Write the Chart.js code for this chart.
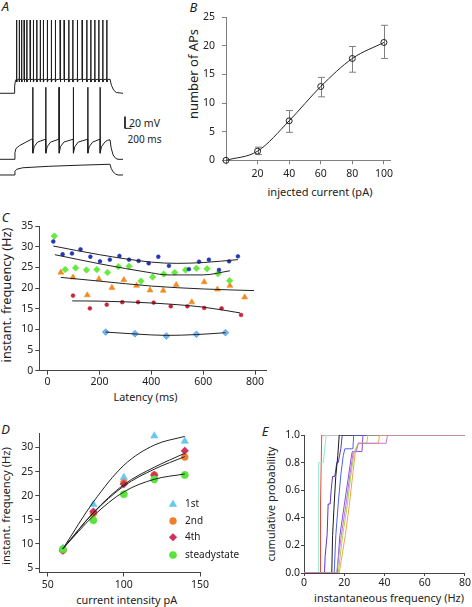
<!DOCTYPE html>
<html>
<head>
<meta charset="utf-8">
<title>Firing properties</title>
<script src="https://cdn.jsdelivr.net/npm/chart.js@4.4.1/dist/chart.umd.min.js"></script>
<style>
html,body{margin:0;padding:0;background:#fff;}
#fig{position:relative;width:472px;height:607px;overflow:hidden;font-family:"Noto Sans",sans-serif;color:#222;}
#fig canvas{position:absolute;}
#txt{position:absolute;left:0;top:0;width:472px;height:607px;}
.t{position:absolute;white-space:nowrap;line-height:1;color:#222;}
</style>
</head>
<body>
<div id="fig">
<div id="txt"></div>
<canvas id="cA" width="160" height="200" style="left:0px;top:0px"></canvas>
<canvas id="cB" width="250" height="200" style="left:160px;top:0px"></canvas>
<canvas id="cC" width="280" height="200" style="left:0px;top:205px"></canvas>
<canvas id="cD" width="245" height="187" style="left:0px;top:420px"></canvas>
<canvas id="cE" width="212" height="187" style="left:260px;top:420px"></canvas>
</div>
<script>
// ---------------- DATA ----------------
// Panel A: voltage traces (time in ms, voltage in display mV incl. trace offsets)
const topSpikeTimes = [508,585,662,738,822,923,1025,1129,1231,1332,1455,1578,1702,1846,1969,2114,2237,2379,2523,2668,2791,2914,3037,3160,3283];
const midSpikeTimes = [1006,1406,1815,2255,2699,3077];
const topOnset = [[0,-134.3],[431,-134.3],[450,-122],[477,-112]];
const topOffset = [[3385,-110],[3430,-121],[3500,-129],[3580,-133],[3785,-134.3]];
const topSpikeLevels = {pre:-110, peak:-8.6, trough:-115, recover:[[25,-111]]};
const midOnset = [[0,-247.5],[431,-247.5],[460,-236],[492,-229],[600,-224],[800,-218],[975,-213]];
const midOffset = [[3300,-215],[3385,-214],[3420,-228],[3480,-240],[3560,-246],[3631,-247.5],[3785,-247.5]];
const midSpikeLevels = {pre:-213, peak:-124, trough:-237, recover:[[45,-226],[150,-218]]};
const lowTrace = [[0,-274.4],[431,-274.4],[460,-268],[520,-264.5],[700,-262],[1500,-259.5],[2500,-257.5],[3385,-256],[3420,-263],[3480,-269],[3560,-273],[3631,-274.4],[3785,-274.4]];
const scaleBarMs = 200, scaleBarMv = 20;

// Panel B
const currentsB = [0,20,40,60,80,100];
const apCountB  = [0,1.6,6.9,12.9,17.8,20.6];
const apErrLowB = [0,1.0,4.9,11.1,15.4,17.8];
const apErrHighB= [0,2.3,8.7,14.5,19.9,23.6];

// Panel C
const latBlue  = [22,58,94,127,165,202,240,277,314,351,390,427,468,545,584,622,661,700,734];
const frqBlue  = [31.3,28.2,28.4,29.4,27.6,26.5,26.9,27.8,26.9,26.6,26.0,27.6,25.4,24.6,26.4,26.9,24.4,26.5,27.7];
const latGreen = [26,68,108,150,190,231,273,314,360,405,448,490,532,574,615,657,702];
const frqGreen = [32.6,24.5,24.9,24.4,24.5,23.8,25.2,25.3,21.7,22.7,23.4,23.8,24.4,24.8,24.7,23.5,21.8];
const latOrange= [51,98,153,198,248,294,343,395,446,496,556,604,655,703,760];
const frqOrange= [23.8,22.6,18.3,22.2,20.1,22.0,20.6,19.5,19.4,20.8,16.6,21.5,19.7,20.6,17.8];
const latRed   = [98,163,228,288,349,409,475,539,604,671,746];
const frqRed   = [18.2,15.1,16.0,16.6,16.6,16.5,15.6,15.6,15.2,15.1,13.5];
const latLBlue = [224,337,458,574,686];
const frqLBlue = [9.35,8.95,8.4,8.8,9.2];
const fitLatBlue  = [22,200,400,500,600,734];   const fitBlue  = [30.2,28.1,26.3,26.0,26.2,26.9];
const fitLatGreen = [28,200,400,460,600,703];   const fitGreen = [28.1,25.9,23.7,23.2,23.2,24.2];
const fitLatOrange= [51,200,400,600,796];       const fitOrange= [22.6,21.7,20.5,19.8,19.4];
const fitLatRed   = [95,200,400,600,742];       const fitRed   = [16.9,16.85,16.4,15.4,14.0];
const fitLatLBlue = [224,337,458,574,686];      const fitLBlue = [9.35,8.9,8.55,8.75,9.2];

// Panel D
const currentD = [60,80,100,120,140];
const freq1st  = [9.1,18.2,23.8,32.4,31.3];
const freq2nd  = [8.7,16.3,22.7,24.3,28.0];
const freq4th  = [8.6,16.7,22.4,24.3,29.3];
const freqSS   = [8.9,14.9,20.3,23.4,24.3];
const fit1st   = [9.0,18.7,26.3,30.5,32.3];
const fit2nd   = [9.0,16.4,22.0,25.5,28.1];
const fit4th   = [9.0,16.5,22.3,25.9,28.8];
const fitSS    = [9.0,15.8,20.8,23.4,24.5];
const legendNamesD = ['1st','2nd','4th','steadystate'];

// Panel E: cumulative probability of instantaneous frequency, per cell
const cellFreqE = [
  [0,8.0,8.2,8.8,80],
  [0,7.2,7.3,9.6,11,80],
  [0,10.2,10.5,11.5,12,13,13.5,14.2,15.3,16.3,17,18.3,19,80],
  [0,13.8,14.2,15,15.8,16.8,17.5,80],
  [0,15,15.8,17,18.3,19.5,20.3,24.3,24.7,80],
  [0,16.5,17.8,20,22.2,23.5,24,28.8,29.3,80],
  [0,17,19.2,21.5,23.3,25,27,31.2,31.7,80],
  [0,17.5,20.5,22.5,24.2,25.5,27,37,37.5,80],
  [0,16.2,18.5,20.8,22.8,24.5,26,27,40.8,41.5,80]
];
const cellProbE = [
  [0,0,0.5,1,1],
  [0,0,0.8,0.8,1,1],
  [0,0,0.12,0.28,0.5,0.5,0.6,0.7,0.7,0.8,0.8,0.9,1,1],
  [0,0,0.27,0.5,0.7,0.85,1,1],
  [0,0,0.27,0.5,0.71,0.85,0.9,0.9,1,1],
  [0,0,0.27,0.49,0.71,0.84,0.88,0.88,1,1],
  [0,0,0.27,0.49,0.71,0.88,0.94,0.94,1,1],
  [0,0,0.27,0.49,0.71,0.88,0.94,0.94,1,1],
  [0,0,0.27,0.49,0.71,0.88,0.88,0.94,0.94,1,1]
];

// ---------------- STYLE ----------------
const cellColorsE = ['#e8483c','#86ecd6','#5a36c8','#1a1a1a','#4a64e6','#8c4ce0','#a6d84a','#f2a550','#c27ad6'];
const FAM = '"Noto Sans", sans-serif';

// ---------------- TEXT (behind the transparent canvases) ----------------
const txt = document.getElementById('txt');
const mctx = document.createElement('canvas').getContext('2d');
function addText(s, cx, cy, len, rot, italic, size){
  const st = italic ? 'italic ' : '';
  if(len){ mctx.font = st + '100px ' + FAM; size = 100*len/mctx.measureText(s).width; }
  const el = document.createElement('div'); el.className='t'; el.textContent = s;
  el.style.font = st + size.toFixed(2) + 'px ' + FAM;
  el.style.lineHeight = '1';
  el.style.left = cx + 'px'; el.style.top = cy + 'px';
  el.style.transform = 'translate(-50%,-50%)' + (rot ? ' rotate(-90deg)' : '');
  txt.appendChild(el);
}
addText('A', 5.5, 6, null, false, true, 13);
addText('B', 193.5, 6.5, null, false, true, 13);
addText('C', 5.5, 216.5, null, false, true, 13);
addText('D', 5.5, 428.5, null, false, true, 13);
addText('E', 265, 430.5, null, false, true, 13);
addText('20 mV', 144.5, 122.5, 31);
addText('200 ms', 144.5, 139, 34);
addText('number of APs', 193, 74, 90, true);
addText('injected current (pA)', 320, 191.7, 105);
addText('instant. frequency (Hz)', 6.3, 294.5, 135, true);
addText('Latency (ms)', 145.5, 397.3, 64);
addText('instant. frequency (Hz)', 6, 506, 118, true);
addText('current intensity pA', 126.7, 600, 101);
addText('cumulative probability', 270, 504, 115, true);
addText('instantaneous frequency (Hz)', 389, 597.7, 150);

// ---------------- CHART DEFAULTS ----------------
Chart.defaults.font.family = FAM;
Chart.defaults.font.size = 10.5;
Chart.defaults.color = '#222';
Chart.defaults.animation = false;
Chart.defaults.responsive = false;
Chart.defaults.plugins.legend.display = false;
Chart.defaults.plugins.tooltip.enabled = false;
Chart.defaults.events = [];

function axis(o){
  const col = o.color || '#444';
  const s = {type:'linear', min:o.min, max:o.max,
    border:{display:true,color:col,width:1},
    grid:{display:true,drawOnChartArea:false,drawTicks:true,tickLength:o.tl,tickColor:col,color:col,tickWidth:1},
    ticks:{stepSize:o.step,padding:o.pad,includeBounds:false,autoSkip:false,maxRotation:0,color:'#222',font:{size:o.fs||10.5}},
    afterFit(sc){ if(o.w!=null) sc.width=o.w; if(o.h!=null) sc.height=o.h; }
  };
  if(o.cb) s.ticks.callback = o.cb;
  return s;
}
const pts = (xs, ys) => xs.map((x,i)=>({x, y:ys[i]}));

// ---------------- PANEL A ----------------
function buildTrace(onset, spikes, lv, offset){
  const p = onset.map(([x,y])=>({x,y}));
  spikes.forEach(t=>{
    p.push({x:t,y:lv.pre}); p.push({x:t+3,y:lv.peak}); p.push({x:t+7,y:lv.trough});
    lv.recover.forEach(([dt,v])=>p.push({x:t+dt,y:v}));
  });
  offset.forEach(([x,y])=>p.push({x,y}));
  return p;
}
const barX = 3846, barY = -174.4;
const traceStyle = {borderColor:'#1e1e1e',borderWidth:1,pointRadius:0,showLine:true,fill:false,clip:false};
new Chart(document.getElementById('cA'), {
  type:'line',
  data:{datasets:[
    Object.assign({data:buildTrace(topOnset, topSpikeTimes, topSpikeLevels, topOffset)}, traceStyle),
    Object.assign({data:buildTrace(midOnset, midSpikeTimes, midSpikeLevels, midOffset)}, traceStyle),
    Object.assign({data:lowTrace.map(([x,y])=>({x,y}))}, traceStyle),
    Object.assign({data:[{x:barX,y:barY},{x:barX,y:barY-scaleBarMv},{x:barX+scaleBarMs,y:barY-scaleBarMv}]}, traceStyle)
  ]},
  options:{layout:{padding:0},
    scales:{x:{type:'linear',display:false,min:0,max:4923},y:{type:'linear',display:false,min:-317.3,max:25.7}}}
});

// ---------------- PANEL B ----------------
const errorBarPlugin = {id:'errbars', beforeDatasetsDraw(chart){
  const {ctx, scales:{x,y}} = chart;
  ctx.save(); ctx.strokeStyle='#808080'; ctx.lineWidth=1;
  currentsB.forEach((c,i)=>{
    if(apErrHighB[i]===apErrLowB[i]) return;
    const px=Math.round(x.getPixelForValue(c))+0.5, lo=y.getPixelForValue(apErrLowB[i]), hi=y.getPixelForValue(apErrHighB[i]);
    ctx.beginPath(); ctx.moveTo(px,lo); ctx.lineTo(px,hi);
    ctx.moveTo(px-3.5,lo); ctx.lineTo(px+3.5,lo); ctx.moveTo(px-3.5,hi); ctx.lineTo(px+3.5,hi); ctx.stroke();
  });
  ctx.restore();
}};
new Chart(document.getElementById('cB'), {
  type:'line',
  data:{datasets:[{data:pts(currentsB, apCountB), borderColor:'#222', borderWidth:1, cubicInterpolationMode:'monotone',
    pointStyle:'circle', pointRadius:3, pointBorderColor:'#222', pointBackgroundColor:'rgba(0,0,0,0)', pointBorderWidth:1, clip:false}]},
  options:{layout:{padding:{left:0,top:17.3,right:19.3,bottom:0}},
    scales:{x:axis({min:0,max:104.3,step:20,h:39.7,tl:4,pad:3,color:'#808080',cb:v=>v===0?'':v}),
            y:axis({min:0,max:25,step:5,w:66,tl:4,pad:7,color:'#808080'})}},
  plugins:[errorBarPlugin]
});

// ---------------- PANEL C ----------------
function fitDS(xs, ys){ return {data:pts(xs,ys), showLine:true, borderColor:'#222', borderWidth:1, pointRadius:0, cubicInterpolationMode:'monotone', order:0}; }
function markDS(xs, ys, style, r, col, border){ return {data:pts(xs,ys), showLine:false, pointStyle:style, pointRadius:r,
  pointBackgroundColor:col, pointBorderColor:border||col, pointBorderWidth:0.6, order:1, clip:false}; }
new Chart(document.getElementById('cC'), {
  type:'line',
  data:{datasets:[
    fitDS(fitLatBlue, fitBlue), fitDS(fitLatGreen, fitGreen), fitDS(fitLatOrange, fitOrange), fitDS(fitLatRed, fitRed), fitDS(fitLatLBlue, fitLBlue),
    markDS(latBlue, frqBlue, 'circle', 1.9, '#2438b8'),
    markDS(latGreen, frqGreen, 'rectRot', 3.3, '#66ea40'),
    markDS(latOrange, frqOrange, 'triangle', 3.4, '#f28c20'),
    markDS(latRed, frqRed, 'circle', 1.9, '#cc2238'),
    markDS(latLBlue, frqLBlue, 'rectRot', 3.4, '#70b4f0', '#4a90d8')
  ]},
  options:{layout:{padding:{left:0,top:21.2,right:13.3,bottom:0}},
    scales:{x:axis({min:-32,max:845,step:200,h:34.3,tl:4,pad:1}),
            y:axis({min:0,max:35,step:5,w:39.3,tl:4,pad:2})}}
});

// ---------------- PANEL D ----------------
const dStyles = [
  {style:'triangle', r:4.2, col:'#66c8ee'},
  {style:'circle', r:3.4, col:'#f07d2c'},
  {style:'rectRot', r:3.8, col:'#d0305a'},
  {style:'circle', r:3.6, col:'#5ae23c'}
];
const dSeries = [freq1st, freq2nd, freq4th, freqSS];
const legendPlugin = {id:'legD', afterDraw(chart){
  const ctx = chart.ctx; const ys=[84.3,101,117.3,135]; const mx=173, tx=185;
  ctx.save();
  legendNamesD.forEach((name,i)=>{
    const s = dStyles[i];
    ctx.fillStyle = s.col; ctx.strokeStyle = s.col; ctx.lineWidth = 0.6;
    Chart.helpers.drawPoint(ctx, {pointStyle:s.style, radius:s.r, rotation:0, borderWidth:0.6}, mx, ys[i]);
    ctx.fillStyle = '#222'; ctx.font = '10px ' + FAM; ctx.textBaseline = 'middle'; ctx.textAlign='left';
    ctx.fillText(name, tx, ys[i]);
  });
  ctx.restore();
}};
new Chart(document.getElementById('cD'), {
  type:'line',
  data:{datasets:[
    fitDS(currentD, fit1st), fitDS(currentD, fit2nd), fitDS(currentD, fit4th), fitDS(currentD, fitSS),
    ...dSeries.map((s,i)=>Object.assign(markDS(currentD, s, dStyles[i].style, dStyles[i].r, dStyles[i].col), {order: 4-i}))
  ]},
  options:{layout:{padding:{left:0,top:13,right:45,bottom:0}},
    scales:{x:axis({min:44.5,max:150,step:50,h:34.5,tl:4,pad:2}),
            y:axis({min:4.07,max:33,step:5,w:39.3,tl:4,pad:2})}},
  plugins:[legendPlugin]
});

// ---------------- PANEL E ----------------
new Chart(document.getElementById('cE'), {
  type:'line',
  data:{datasets: cellFreqE.map((xs,i)=>({data:pts(xs, cellProbE[i]), showLine:true, borderColor:cellColorsE[i], borderWidth:1,
     pointRadius:0, tension:0, order: cellFreqE.length - i}))},
  options:{layout:{padding:{left:0,top:15,right:7,bottom:0}},
    scales:{x:axis({min:0,max:80,step:20,h:34,tl:3,pad:1}),
            y:axis({min:0,max:1,step:0.2,w:44,tl:3,pad:1,cb:v=>v.toFixed(1)})}}
});
</script>
</body>
</html>
